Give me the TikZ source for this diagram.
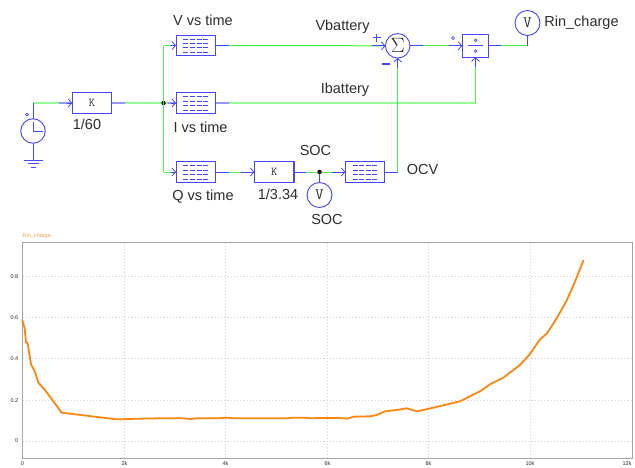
\documentclass[tikz,border=0pt]{standalone}
\usepackage{fontspec}
\setmainfont{Liberation Sans}
\usetikzlibrary{arrows.meta,calc}
\definecolor{pblue}{RGB}{70,70,255}
\definecolor{paleblue}{RGB}{150,150,255}
\definecolor{pgreen}{RGB}{70,240,70}
\definecolor{palegreen}{RGB}{150,250,150}
\definecolor{ptext}{RGB}{45,45,45}
\definecolor{porange}{RGB}{255,135,15}
\definecolor{pgrid}{RGB}{215,215,215}
\definecolor{pframe}{RGB}{165,165,165}
\tikzset{
  x=1pt,y=-1pt,
  blockbox/.style={draw=pblue,line width=1.1pt,fill=white,inner sep=0pt,outer sep=0pt,minimum width=39.5pt,minimum height=20.5pt},
  gainbox/.style={blockbox,font=\ttfamily\fontsize{12}{12}\selectfont,text=ptext},
  meter/.style={circle,draw=pblue,line width=0.9pt,fill=white,inner sep=0pt,outer sep=0pt,minimum size=25pt,font=\ttfamily\fontsize{16}{16}\selectfont,text=ptext},
  lab/.style={font=\fontsize{14.5}{14.5}\selectfont,text=ptext,inner sep=0pt},
  wire/.style={draw=pgreen,line width=1pt},
  thickwire/.style={draw=palegreen,line width=1.7pt},
  stub/.style={draw=pblue,line width=0.9pt},
  thickstub/.style={draw=paleblue,line width=1.7pt},
  inlet/.style={draw=pblue,line width=0.8pt,-{Straight Barb[length=3.5pt,width=8pt]}},
  dot/.style={circle,fill=black,inner sep=0pt,minimum size=4.5pt},
  tablerow/.style={draw=pblue,line width=0.8pt,dash pattern=on 5pt off 1.6pt},
  ticklab/.style={font=\fontsize{5.5}{5.5}\selectfont,text=ptext,inner sep=0pt},
  gridline/.style={draw=pgrid,line width=0.6pt,dash pattern=on 1.2pt off 2pt},
  plin/.style={draw=pblue,line width=0.9pt},
  tinycirc/.style={draw=pblue,line width=0.7pt,fill=white}
}
\newcommand{\tablerows}[1]{%
  \foreach \ry in {-6.2,-2,2.2,7.2}{\draw[tablerow] ($(#1.center)+(-12.5,\ry)$) -- ($(#1.center)+(13,\ry)$);}%
}
\begin{document}
\begin{tikzpicture}
\useasboundingbox (0,0) rectangle (635,467);
\fill[white] (0,0) rectangle (635,467);

% blocks
\node[meter,minimum size=24.5pt] (clk) at (33,131) {};
\node[gainbox] (kone) at (92,103) {K};
\node[blockbox] (tv) at (195.8,45.5) {};
\node[blockbox] (ti) at (195.8,103) {};
\node[blockbox] (tq) at (195.8,172) {};
\node[gainbox] (ktwo) at (274.2,172) {K};
\node[blockbox] (tocv) at (365,172) {};
\node[meter,minimum size=24.5pt,font=\fontsize{21}{21}\selectfont] (sum) at (397.7,45.8) {$\Sigma$};
\node[blockbox,minimum width=26.4pt,minimum height=23pt] (dv) at (475.5,45.8) {};
\node[meter] (vrin) at (527.5,23) {V};
\node[meter] (vsoc) at (319.5,195) {V};
\node[dot] (jone) at (163.5,103) {};
\node[dot] (jtwo) at (319.5,172) {};
\coordinate (tl) at (33,103);
\coordinate (gnd) at (33,160);
\coordinate (vbus) at (163.5,45.5);
\coordinate (qbus) at (163.5,172);
\coordinate (ibend) at (475.5,103);
\coordinate (ocvbend) at (397.7,172);
\coordinate (rinbend) at (527.5,45.8);

% green wires
\draw[thickwire] (tl) -- (kone.west);
\draw[thickwire] (kone.east) -- (jone);
\draw[thickwire] (jone) -- (ti.west);
\draw[wire] (vbus) -- (qbus);
\draw[wire] (vbus) -- (tv.west);
\draw[wire] (qbus) -- (tq.west);
\draw[wire] (tv.east) -- (sum.west);
\draw[thickwire] (ti.east) -- (ibend);
\draw[wire] (ibend) -- (dv.south);
\draw[wire] (tq.east) -- (ktwo.west);
\draw[wire] (ktwo.east) -- (jtwo);
\draw[wire] (jtwo) -- (tocv.west);
\draw[wire] (tocv.east) -- (ocvbend);
\draw[wire] (ocvbend) -- (sum.south);
\draw[wire] (sum.east) -- (dv.west);
\draw[wire] (dv.east) -- (rinbend);

% blue pin stubs
\draw[stub] (clk.north) -- (tl);
\draw[stub] (clk.south) -- (gnd);
\draw[thickstub] ($(kone.west)+(-13,0)$) -- (kone.west);
\draw[thickstub] (kone.east) -- ++(13,0);
\draw[thickstub] ($(ti.west)+(-8,0)$) -- (ti.west);
\draw[thickstub] (ti.east) -- ++(13,0);
\draw[stub] (tv.east) -- ++(13,0);
\draw[stub] (tq.east) -- ++(13,0);
\draw[stub] ($(ktwo.west)+(-13,0)$) -- (ktwo.west);
\draw[stub] (ktwo.east) -- ++(12,0);
\draw[stub] ($(tocv.west)+(-13,0)$) -- (tocv.west);
\draw[stub] (tocv.east) -- (ocvbend);
\draw[stub] ($(sum.west)+(-13,0)$) -- (sum.west);
\draw[stub] (sum.east) -- ++(13,0);
\draw[stub] ($(dv.west)+(-13,0)$) -- (dv.west);
\draw[stub] (dv.east) -- ++(12,0);
\draw[stub] (vrin.south) -- (rinbend);
\draw[stub] (vsoc.north) -- (jtwo);
\draw[stub] ($(sum.south)+(0,10)$) -- (sum.south);
\draw[stub] ($(dv.south)+(0,10)$) -- (dv.south);

% inlet chevrons
\foreach \n in {kone,tv,ti,tq,ktwo,tocv,sum,dv}{\draw[inlet] ($(\n.west)+(-5,0)$) -- (\n.west);}
\foreach \n in {sum,dv}{\draw[inlet] ($(\n.south)+(0,5)$) -- (\n.south);}

% table icons
\tablerows{tv}\tablerows{ti}\tablerows{tq}\tablerows{tocv}

% clock details
\draw[plin] (clk.center) -- ++(0,-9);
\draw[plin] (clk.center) -- ++(9.5,0);
\draw[tinycirc] (27,114.5) circle (1.5);
% ground
\draw[plin,line width=1pt] (24,160) -- (43,160);
\draw[plin] (28,163.5) -- (38.5,163.5);
\draw[plin] (31,167) -- (36,167);

% sum signs
\draw[plin,line width=1pt] (373,37.8) -- (380.5,37.8) (376.7,34) -- (376.7,41.5);
\draw[plin,line width=1.1pt] (382,64) -- (389.5,64);
\draw[tinycirc] (453,38) circle (1.5);
% divide symbol
\draw[plin] (468,45.8) -- (483,45.8);
\draw[tinycirc] (475.7,40.3) circle (1.3);
\draw[tinycirc] (475.7,51) circle (1.3);

% diagram labels
\node[lab] (lv) at (203,20) {V vs time};
\node[lab] (li) at (200.5,127.5) {I vs time};
\node[lab] (lq) at (203,197) {Q vs time};
\node[lab] (lk) at (87,124.5) {1/60};
\node[lab] (lkt) at (278,194) {1/3.34};
\node[lab] (lsa) at (315.5,151) {SOC};
\node[lab] (lsb) at (327,220) {SOC};
\node[lab] (lvb) at (342.5,27) {Vbattery};
\node[lab] (lib) at (345,89.5) {Ibattery};
\node[lab] (locv) at (422.5,170) {OCV};
\node[lab] (lrin) at (581.5,22.5) {Rin\_charge};

% plot
\node[font=\fontsize{5.5}{5.5}\selectfont,text=porange!80,inner sep=0pt,anchor=west] (ptitle) at (22.5,236.5) {Rin\_charge};
\foreach \yy in {276.7,317.5,358.7,400.3,441}{\draw[gridline] (22.5,\yy) -- (632,\yy);}
\foreach \xx in {124.5,225.5,327.5,428.5,530}{\draw[gridline] (\xx,242.5) -- (\xx,458.7);}
\draw[draw=pframe,line width=1pt] (22.5,458.7) -- (22.5,242.5) -- (632,242.5) -- (632,458.7) -- cycle;
\foreach \yy/\tt [count=\i] in {276.7/0.8,317.5/0.6,358.7/0.4,400.3/0.2,441/0}{\node[ticklab,anchor=east] (ytick\i) at (18.5,\yy) {\tt};}
\foreach \xx/\tt [count=\i] in {22.5/0,124.5/2k,225.5/4k,327.5/6k,428.5/8k,530/10k,627/12k}{\node[ticklab] (xtick\i) at (\xx,463.7) {\tt};}

\begin{scope}[x=0.33333pt,y=-0.33333pt,yshift=-230pt]
\draw[porange,line width=1.8pt,line join=round,line cap=round]
 (67,270)--(74,295)--(78,337)--(83,340)--(93,403)--(105,425)--(115,458)--(135,480)--(185,548)--(350,568)--(420,566)--(470,565)--(550,565)--(570,567)--(590,565)--(650,565)--(680,563)--(700,565)--(860,565)--(880,563)--(915,563)--(930,565)--(960,564)
 --(1020,564)--(1042,566)--(1060,560)--(1110,559)--(1130,555)--(1155,544)--(1190,540)--(1220,535)--(1252,544)--(1300,533)--(1380,514)--(1440,484)--(1475,460)--(1510,443)--(1560,405)--(1590,372)--(1620,328)--(1640,311)--(1670,265)--(1700,212)--(1725,155)--(1750,92);
\end{scope}
\end{tikzpicture}
\end{document}
